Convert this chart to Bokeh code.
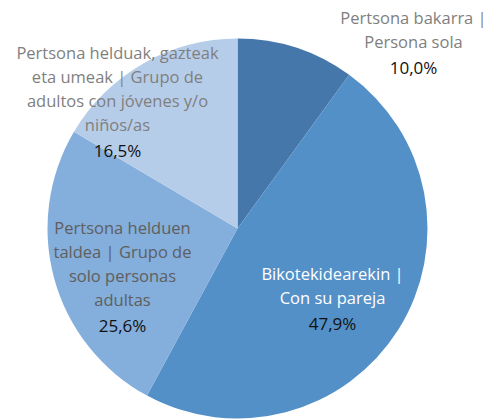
import math
from bokeh.plotting import figure
from bokeh.models import Range1d, ColumnDataSource
from bokeh.core.properties import value
from bokeh.embed import file_html
from bokeh.resources import INLINE

# ---- data ----
categories = [
    "Pertsona bakarra |\nPersona sola",
    "Bikotekidearekin |\nCon su pareja",
    "Pertsona helduen\ntaldea | Grupo de\nsolo personas\nadultas",
    "Pertsona helduak, gazteak\neta umeak | Grupo de\nadultos con jóvenes y/o\nniños/as",
]
shares = [10.0, 47.9, 25.6, 16.5]
pct_labels = ["10,0%", "47,9%", "25,6%", "16,5%"]

# ---- styles / layout ----
colors = ["#4677aa", "#5490c8", "#84aedb", "#b6cde9"]
cat_colors = ["#7f7f7f", "#ffffff", "#5f5f5f", "#7f7f7f"]
label_centers = [(413, 17), (332, 273), (122, 227), (117, 52)]  # first line center (screen px)
line_step = 24

W, H = 494, 419
cx, cy, R = 237, 228, 190

p = figure(width=W, height=H, output_backend="svg", toolbar_location=None,
           x_range=Range1d(0, W), y_range=Range1d(H, 0), min_border=0)
p.axis.visible = False
p.grid.visible = False
p.outline_line_color = None
p.background_fill_color = "white"

total = sum(shares)
starts, ends = [], []
acc = 0.0
for s in shares:
    a0 = acc / total
    acc += s
    a1 = acc / total
    # angles are visual: start at 12 o'clock, go clockwise
    starts.append(math.pi / 2 - 2 * math.pi * a0)
    ends.append(math.pi / 2 - 2 * math.pi * a1)

src = ColumnDataSource(dict(start=starts, end=ends, color=colors))
p.wedge(x=cx, y=cy, radius=R, start_angle="start", end_angle="end",
        direction="clock", fill_color="color", line_color=None, source=src)

tx, ty, tt, tc = [], [], [], []
px, py = [], []
for cat, pct, (lx, ly), col in zip(categories, pct_labels, label_centers, cat_colors):
    lines = cat.split("\n")
    for i, ln in enumerate(lines):
        tx.append(lx); ty.append(ly + i * line_step); tt.append(ln); tc.append(col)
    px.append(lx); py.append(ly + len(lines) * line_step + 2)

p.text(x=tx, y=ty, text=tt, text_color=tc, text_align="center", text_baseline="middle",
       text_font=value("Open Sans"), text_font_size="16.5px")
p.text(x=px, y=py, text=pct_labels, text_color="#111111", text_align="center",
       text_baseline="middle", text_font=value("Open Sans"), text_font_size="17px")

open("out.html", "w").write(file_html(p, INLINE))
